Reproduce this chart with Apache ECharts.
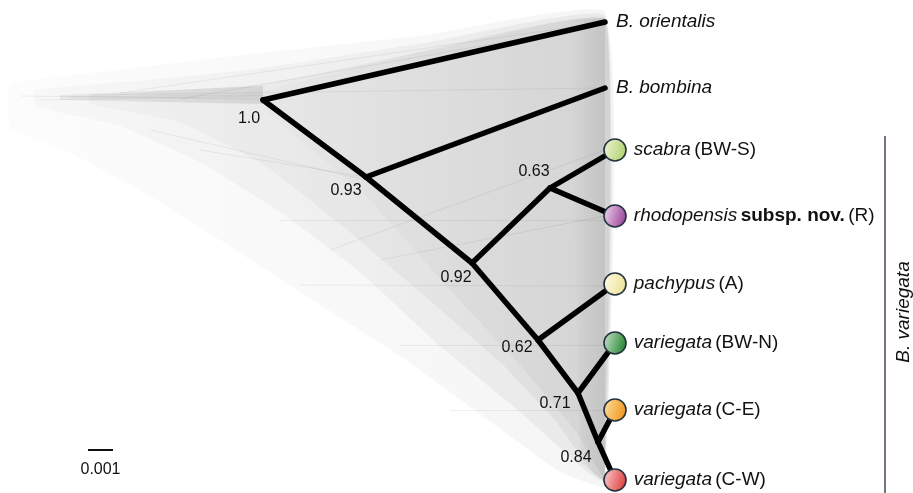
<!DOCTYPE html>
<html><head><meta charset="utf-8">
<script src="https://cdn.jsdelivr.net/npm/echarts@6/dist/echarts.min.js"></script>
<style>html,body{margin:0;padding:0;background:#fff}#c{width:913px;height:493px}</style>
</head><body><div id="c"></div>
<script>
// ---- data (layout units: x = branch position, y = tip row) ----
const tipNames   = ['B. orientalis','B. bombina','scabra','rhodopensis','pachypus','variegata','variegata','variegata'];
const tipBold    = ['','','','subsp. nov.','','','',''];
const tipCodes   = ['','','(BW-S)','(R)','(A)','(BW-N)','(C-E)','(C-W)'];
const tipX       = [605,605,615,615,615,615,615,615];
const tipY       = [22,88,150,216,284,343,410,480];
const tipColors  = [null,null,['#f1f7dc','#b5d374'],['#f3ddf2','#a04d9f'],['#fffdeb','#efe49c'],['#cfe9cf','#2f8a3b'],['#fde3a8','#f29a22'],['#fcd4d4','#e14747']];
const nodeNames  = ['root','n093','n092','n063','n062','n071','n084'];
const nodeX      = [263,366,472,550,538,578,598];
const nodeY      = [100,177,263,188,340,393,442];
const nodeSupport= ['1.0','0.93','0.92','0.63','0.62','0.71','0.84'];
// edges: [parent, child] (child: 't#' tip index or node name)
const edges = [['root','t0'],['root','n093'],['n093','t1'],['n093','n092'],['n092','n063'],['n063','t2'],['n063','t3'],
               ['n092','n062'],['n062','t4'],['n062','n071'],['n071','t5'],['n071','n084'],['n084','t6'],['n084','t7']];
// envelope of the cloud of sampled trees (outer to inner)
const cloudOuter = [[10,84],[100,72],[250,54],[420,36],[605,12],[605,486],[560,472],[480,414],[400,356],[300,292],[220,240],[140,190],[60,148],[10,128]];
const cloudMid   = [[35,90],[150,80],[263,68],[430,42],[605,16],[605,482],[585,470],[520,412],[440,346],[360,272],[280,212],[200,162],[120,126],[35,106]];
const cloudInner = [[90,96],[263,84],[450,46],[605,19],[605,480],[594,474],[555,420],[500,362],[420,292],[340,224],[263,164],[180,122],[90,104]];
const cloudCore  = [[263,92],[605,20],[605,478],[575,430],[520,365],[450,290],[366,196],[300,140],[263,108]];
const cloudStem  = [[60,95],[263,86],[263,104],[60,100]];
const cloudTips  = [[570,20],[605,18],[605,482],[580,462]];
// faint alternative-topology branches
const altEdges = [[[20,96],[263,99]],[[70,97],[263,95]],[[120,93],[605,22]],[[90,95],[605,88]],[[180,99],[605,24]],
                  [[200,150],[366,177]],[[150,130],[366,180]],[[280,220],[605,220]],[[300,285],[605,286]],[[400,345],[605,345]],
                  [[450,410],[605,410]],[[330,250],[605,150]],[[380,260],[605,216]],[[40,100],[263,96]]];
const scaleBar = [[88,450],[113,450]];
const scaleLabel = '0.001';
const groupLine = [[885,136],[885,493]];
const groupLabel = 'B. variegata';

// ---- build ----
function pos(id){ if(id[0]==='t'){const i=+id.slice(1);return [tipX[i],tipY[i]];} const k=nodeNames.indexOf(id); return [nodeX[k],nodeY[k]]; }
const edgeData = edges.map(([a,b])=>{const p=pos(a),q=pos(b);return [p[0],p[1],q[0],q[1]];});
const supOffsets = [[-14,19],[-20,14],[-16,15],[-16,-16],[-21,8],[-23,11],[-22,16]];
const font = 'Arial, "Liberation Sans", Helvetica, sans-serif';
const clouds = [cloudOuter,cloudMid,cloudInner,cloudCore,cloudStem,cloudTips];
const cloudAlpha = [[0.012,0.04],[0.02,0.05],[0.02,0.05],[0.01,0.045],[0.06,0.09],[0,0.08]];

const chart = echarts.init(document.getElementById('c'));
chart.setOption({
  animation:false,
  backgroundColor:'#fff',
  grid:{left:0,right:0,top:0,bottom:0},
  xAxis:{type:'value',min:0,max:913,show:false},
  yAxis:{type:'value',min:0,max:493,inverse:true,show:false},
  series:[
    {type:'custom',silent:true,z:1,clip:false,
     data:clouds.map((c,i)=>[c[0][0],c[0][1],i]),
     renderItem:(params,api)=>{
       const i=params.dataIndex; const pts=clouds[i].map(p=>api.coord(p));
       const a=cloudAlpha[i];
       return {type:'polygon',shape:{points:pts,smooth:i<4?0.1:0},
         style:{fill:new echarts.graphic.LinearGradient(0,0,1,0,[{offset:0,color:'rgba(0,0,0,'+a[0]+')'},{offset:1,color:'rgba(0,0,0,'+a[1]+')'}])}};
     }},
    {type:'lines',coordinateSystem:'cartesian2d',silent:true,z:2,
     data:altEdges.map(e=>({coords:e})),
     lineStyle:{color:'#000',opacity:0.06,width:1.2}},
    {type:'custom',silent:true,z:5,clip:false,
     data:edgeData,encode:{x:[0,2],y:[1,3]},
     renderItem:(params,api)=>{
       const p=api.coord([api.value(0),api.value(1)]), q=api.coord([api.value(2),api.value(3)]);
       return {type:'line',shape:{x1:p[0],y1:p[1],x2:q[0],y2:q[1]},style:{stroke:'#000',lineWidth:5.5,lineCap:'round'}};
     }},
    // outgroup labels
    {type:'scatter',z:6,symbolSize:0,silent:true,itemStyle:{opacity:1},
     data:[0,1].map(i=>({value:[tipX[i],tipY[i]]})),
     label:{show:true,position:'right',distance:11,
       formatter:p=>'{it|'+tipNames[p.dataIndex]+'}',
       rich:{it:{fontFamily:font,fontStyle:'italic',fontSize:19,color:'#111'}}}},
    // ingroup tips
    {type:'scatter',z:7,symbolSize:22,silent:true,clip:false,
     data:[2,3,4,5,6,7].map(i=>({value:[tipX[i],tipY[i]],
        itemStyle:{color:new echarts.graphic.LinearGradient(0,0,1,0.3,[{offset:0,color:tipColors[i][0]},{offset:1,color:tipColors[i][1]}]),
                   borderColor:'#24323f',borderWidth:1.6,opacity:1},
        label:{formatter:'{it|'+tipNames[i]+'}'+(tipBold[i]?' {b|'+tipBold[i]+'}':'')+' {n|'+tipCodes[i]+'}'}})),
     label:{show:true,position:'right',distance:7,
       rich:{it:{fontFamily:font,fontStyle:'italic',fontSize:19,color:'#111'},
             b:{fontFamily:font,fontWeight:'bold',fontSize:19,color:'#111'},
             n:{fontFamily:font,fontSize:19,color:'#111'}}}},
    // support values
    {type:'scatter',z:8,symbolSize:0,silent:true,itemStyle:{opacity:1},
     data:nodeX.map((x,i)=>({value:[x,nodeY[i]],label:{offset:supOffsets[i]}})),
     label:{show:true,position:'inside',formatter:p=>nodeSupport[p.dataIndex],
       fontFamily:font,fontSize:16,color:'#111'}},
    // scale bar
    {type:'line',z:8,silent:true,symbol:'none',data:scaleBar,lineStyle:{color:'#111',width:2}},
    {type:'scatter',z:8,symbolSize:0,silent:true,itemStyle:{opacity:1},data:[[(scaleBar[0][0]+scaleBar[1][0])/2,scaleBar[0][1]]],
     label:{show:true,position:'inside',offset:[0,20],formatter:scaleLabel,fontFamily:font,fontSize:16,color:'#111'}},
    // group bracket
    {type:'line',z:8,silent:true,symbol:'none',clip:false,data:groupLine,lineStyle:{color:'#3d4858',width:1.5}},
    {type:'scatter',z:8,symbolSize:0,silent:true,clip:false,itemStyle:{opacity:1},data:[[groupLine[0][0],312]],
     label:{show:true,position:'inside',offset:[0,19],rotate:90,formatter:groupLabel,
       fontFamily:font,fontStyle:'italic',fontSize:19,color:'#111'}}
  ]
});
</script></body></html>
